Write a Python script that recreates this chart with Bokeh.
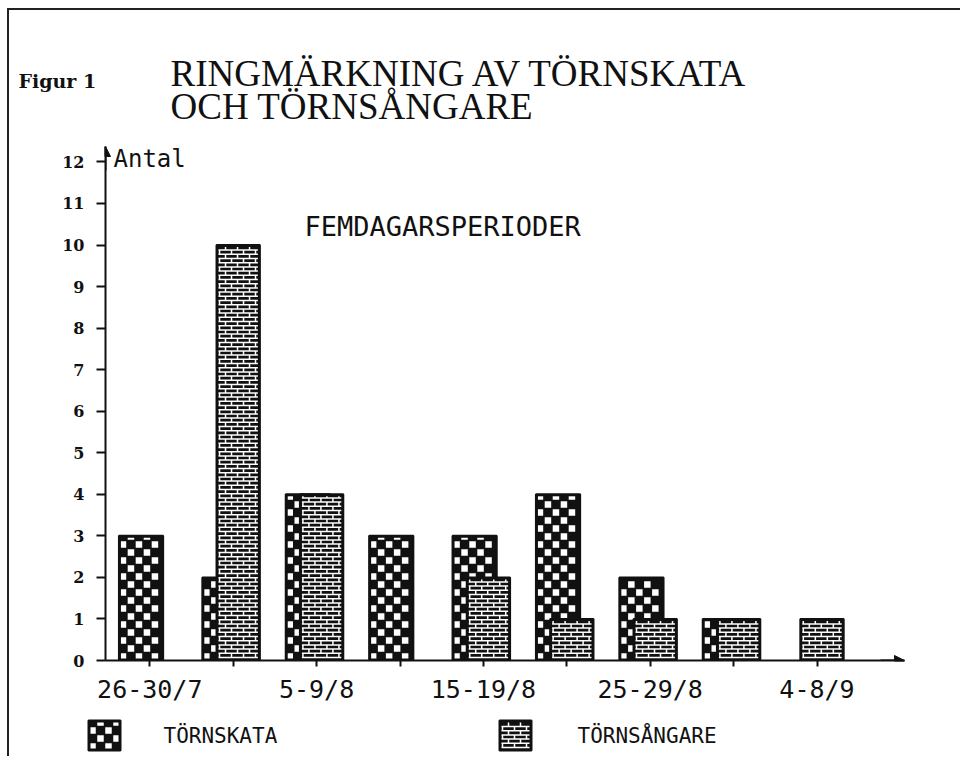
from bokeh.plotting import figure
from bokeh.layouts import column
from bokeh.models import (Range1d, FixedTicker, ColumnDataSource, Label, Arrow,
                          NormalHead)
from bokeh.core.properties import value
from bokeh.embed import file_html
from bokeh.resources import INLINE

# ---- data ----
periods = ["26-30/7", "31/7-4/8", "5-9/8", "10-14/8", "15-19/8",
           "20-24/8", "25-29/8", "30/8-3/9", "4-8/9"]
shown_labels = ["26-30/7", "5-9/8", "15-19/8", "25-29/8", "4-8/9"]
tornskata = [3, 2, 4, 3, 3, 4, 2, 1, 0]
tornsangare = [0, 10, 4, 0, 2, 1, 1, 1, 1]
y_ticks = list(range(0, 13))

title_1 = "RINGMÄRKNING AV TÖRNSKATA"
title_2 = "OCH TÖRNSÅNGARE"
fig_label = "Figur 1"
y_label = "Antal"
x_label = "FEMDAGARSPERIODER"
series_names = ["TÖRNSKATA", "TÖRNSÅNGARE"]

INK = "#111111"
OX, OY = 9, 10            # page offset of the content (margin + border)
W = 951
TOP_H, MID_H, BOT_H = 128, 570, 48


# ---- fill patterns (offsets in px from a box's bottom-left corner) ----
def checker_cells(w, h, cell=8.0, sq=6.5, pad=2.0):
    out = []
    for r in range(int(h // cell) + 1):
        for k in range(int(w // cell) + 1):
            if (r + k) % 2:
                continue
            cx, cy = k * cell + cell / 2, r * cell + cell / 2
            x0, x1 = max(cx - sq / 2, pad), min(cx + sq / 2, w - pad)
            y0, y1 = max(cy - sq / 2, pad), min(cy + sq / 2, h - pad)
            if x1 - x0 >= 1.5 and y1 - y0 >= 1.5:
                out.append((x0, x1, y0, y1))
    return out


def brick_lines(w, h, rh=4.2, jw=12.0, pad=2.0):
    out = []
    r = 0
    y = pad + 1.0
    while y < h - pad:
        out.append((pad, w - pad, y, y))
        y_next = min(y + rh, h - pad)
        x = 3.0 if r % 2 == 0 else 3.0 + jw / 2
        while x < w - pad:
            out.append((x, x, y, y_next))
            x += jw
        y += rh
        r += 1
    return out


def blank_fig(h, y_top):
    f = figure(width=W, height=h, output_backend="svg", toolbar_location=None,
               x_range=Range1d(OX, OX + W), y_range=Range1d(y_top + h, y_top),
               x_axis_type=None, y_axis_type=None,
               min_border=0, min_border_left=0, min_border_right=0,
               min_border_top=0, min_border_bottom=0)
    f.outline_line_color = None
    f.grid.visible = False
    f.background_fill_color = "white"
    f.border_fill_color = "white"
    f.frame_align = False
    return f


# ---- top: titles ----
top = blank_fig(TOP_H, OY)
top.add_layout(Label(x=170, y=73, text=title_1, text_font="Liberation Serif",
                     text_font_size="37px", text_baseline="middle", text_color=INK))
top.add_layout(Label(x=170, y=106, text=title_2, text_font="Liberation Serif",
                     text_font_size="37px", text_baseline="middle", text_color=INK))
top.add_layout(Label(x=18, y=80, text=fig_label, text_font="DejaVu Serif",
                     text_font_style="bold", text_font_size="19px",
                     text_baseline="middle", text_color=INK))

# ---- main chart ----
X0, XS = 149.3, 83.4      # page x of category 0, px per category
Y0, YS = 660.0, 41.55     # page y of value 0, px per unit
def dx(px):
    return (px - X0) / XS
def dy(py):
    return (Y0 - py) / YS

FR_L, FR_R, FR_T, FR_B = 105, 904, 146, 660
MID_TOP = OY + TOP_H
p = figure(width=W, height=MID_H, output_backend="svg", toolbar_location=None,
           x_range=Range1d(dx(FR_L), dx(FR_R)), y_range=Range1d(0, dy(FR_T)),
           min_border_left=FR_L - OX, min_border_right=OX + W - FR_R,
           min_border_top=FR_T - MID_TOP, min_border_bottom=MID_TOP + MID_H - FR_B)
p.outline_line_color = None
p.grid.visible = False
p.background_fill_color = "white"
p.border_fill_color = "white"
p.frame_align = False

idx = list(range(len(periods)))
A_OFF, A_W = -0.105, 0.53
B_OFF, B_W = 0.06, 0.52


def bar_patterns(values, off, width, maker):
    cols = dict(x0=[], x1=[], y0=[], y1=[])
    for i, v in zip(idx, values):
        if v <= 0:
            continue
        left = i + off - width / 2
        for a, b, c, d in maker(width * XS, v * YS):
            cols["x0"].append(left + a / XS)
            cols["x1"].append(left + b / XS)
            cols["y0"].append(c / YS)
            cols["y1"].append(d / YS)
    return ColumnDataSource(cols)


src_a = ColumnDataSource(dict(x=[i + A_OFF for i, v in zip(idx, tornskata) if v > 0],
                              top=[v for v in tornskata if v > 0]))
src_b = ColumnDataSource(dict(x=[i + B_OFF for i, v in zip(idx, tornsangare) if v > 0],
                              top=[v for v in tornsangare if v > 0]))

p.vbar(x="x", top="top", bottom=0, width=A_W, source=src_a,
       fill_color=INK, line_color=INK, line_width=2)
pa = bar_patterns(tornskata, A_OFF, A_W, checker_cells)
p.quad(left="x0", right="x1", bottom="y0", top="y1", source=pa,
       fill_color="white", line_color=None)
p.vbar(x="x", top="top", bottom=0, width=B_W, source=src_b,
       fill_color=INK, line_color=INK, line_width=2)
pb = bar_patterns(tornsangare, B_OFF, B_W, brick_lines)
p.segment(x0="x0", y0="y0", x1="x1", y1="y1", source=pb,
          line_color="white", line_width=1.5)

xa = p.xaxis[0]
xa.ticker = FixedTicker(ticks=idx)
overrides = {i: "" for i in idx}
for lab in shown_labels:
    overrides[periods.index(lab)] = lab
xa.major_label_overrides = overrides
xa.axis_line_width = 2
xa.axis_line_color = INK
xa.major_tick_line_width = 2
xa.major_tick_line_color = INK
xa.major_tick_in = 0
xa.major_tick_out = 6
xa.minor_tick_line_color = None
xa.major_label_standoff = 8
xa.major_label_text_font = "DejaVu Sans Mono"
xa.major_label_text_font_size = "25px"
xa.major_label_text_color = INK

ya = p.yaxis[0]
ya.ticker = FixedTicker(ticks=y_ticks)
ya.axis_line_width = 2
ya.axis_line_color = INK
ya.major_tick_line_width = 2
ya.major_tick_line_color = INK
ya.major_tick_in = 0
ya.major_tick_out = 9
ya.minor_tick_line_color = None
ya.major_label_standoff = 12
ya.major_label_text_font = "DejaVu Serif"
ya.major_label_text_font_style = "bold"
ya.major_label_text_font_size = "16px"
ya.major_label_text_color = INK

p.add_layout(Arrow(x_start=dx(880), y_start=0, x_end=dx(FR_R), y_end=0,
                   line_width=2, line_color=INK,
                   end=NormalHead(size=10, fill_color=INK, line_color=INK)))
p.add_layout(Arrow(x_start=dx(FR_L), y_start=dy(170), x_end=dx(FR_L), y_end=dy(FR_T),
                   line_width=2, line_color=INK,
                   end=NormalHead(size=10, fill_color=INK, line_color=INK)))

p.add_layout(Label(x=dx(113), y=dy(158), text=y_label, text_font="DejaVu Sans Mono",
                   text_font_size="24px", text_baseline="middle", text_color=INK))
p.add_layout(Label(x=dx(304), y=dy(226), text=x_label, text_font="DejaVu Sans Mono",
                   text_font_size="27px", text_baseline="middle", text_color=INK))

# ---- bottom: legend ----
BOT_TOP = MID_TOP + MID_H
bot = blank_fig(BOT_H, BOT_TOP)
SW_W, SW_H, SW_B = 32, 30, 750
sw_lefts = [88, 499]
makers = [checker_cells, brick_lines]
bot.quad(left=sw_lefts, right=[l + SW_W for l in sw_lefts],
         top=[SW_B - SW_H] * 2, bottom=[SW_B] * 2,
         fill_color=INK, line_color=INK, line_width=2)
leg_q = dict(l=[], r=[], b=[], t=[])
leg_s = dict(x0=[], x1=[], y0=[], y1=[])
for left, mk in zip(sw_lefts, makers):
    for a, b, c, d in mk(SW_W, SW_H):
        if mk is checker_cells:
            leg_q["l"].append(left + a); leg_q["r"].append(left + b)
            leg_q["b"].append(SW_B - c); leg_q["t"].append(SW_B - d)
        else:
            leg_s["x0"].append(left + a); leg_s["x1"].append(left + b)
            leg_s["y0"].append(SW_B - c); leg_s["y1"].append(SW_B - d)
bot.quad(left="l", right="r", bottom="b", top="t", source=ColumnDataSource(leg_q),
         fill_color="white", line_color=None)
bot.segment(x0="x0", y0="y0", x1="x1", y1="y1", source=ColumnDataSource(leg_s),
            line_color="white", line_width=1.5)
bot.text(x=[163, 577], y=[735, 735], text=series_names,
         text_font=value("DejaVu Sans Mono"), text_font_size="21px",
         text_baseline="middle", text_color=INK)

layout = column(top, p, bot)
layout.styles = {"border-left": "2px solid #222", "border-top": "2px solid #222",
                 "margin-left": "7px", "margin-top": "8px"}
open("out.html", "w").write(file_html(layout, INLINE))
